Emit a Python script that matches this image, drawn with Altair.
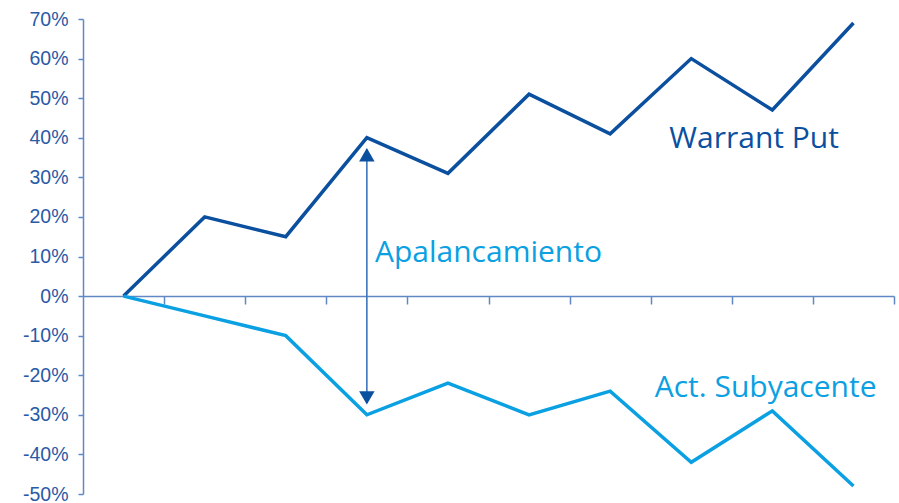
import altair as alt
import pandas as pd

# ---- data ----
periods = list(range(10))
warrant_put = [0, 20, 15, 40, 31, 51, 41, 60, 47, 69]
act_subyacente = [0, -5, -10, -30, -22, -30, -24, -42, -29, -48]
y_ticks = [-50, -40, -30, -20, -10, 0, 10, 20, 30, 40, 50, 60, 70]
x_ticks = list(range(1, 11))
arrow_period = 3

label_texts = ["Warrant Put", "Apalancamiento", "Act. Subyacente"]
label_x = [7.23, 3.6, 7.05]
label_y = [37.4, 8.6, -25.4]

DARK = "#0b4f9f"
LIGHT = "#0aa0e2"
AXIS = "#5f88c4"
LABEL = "#2a5aa6"

rows = []
for p, v in zip(periods, warrant_put):
    rows.append({"x": p + 0.5, "v": v, "serie": "Warrant Put"})
for p, v in zip(periods, act_subyacente):
    rows.append({"x": p + 0.5, "v": v, "serie": "Act. Subyacente"})
df = pd.DataFrame(rows)

xscale = alt.Scale(domain=[0, 10], nice=False, zero=False)
yscale = alt.Scale(domain=[-50, 70], nice=False, zero=False)

x_axis = alt.Axis(
    values=x_ticks, labels=False, title=None, grid=False,
    domainColor=AXIS, domainWidth=1.5, tickColor=AXIS, tickWidth=1.5,
    tickSize=8, offset=-198,
)
y_axis = alt.Axis(
    values=y_ticks, title=None, grid=False,
    labelExpr="datum.value + '%'",
    labelOverlap=False, labelFlush=False, labelBound=False,
    domainColor=AXIS, domainWidth=1.5, tickColor=AXIS, tickWidth=1.5,
    tickSize=5, labelPadding=10, labelFont="Liberation Sans",
    labelFontSize=19.5, labelColor=LABEL,
)

lines = alt.Chart(df).mark_line(strokeWidth=3.5, strokeJoin="miter").encode(
    x=alt.X("x:Q", scale=xscale, axis=x_axis),
    y=alt.Y("v:Q", scale=yscale, axis=y_axis),
    color=alt.Color("serie:N",
                    scale=alt.Scale(domain=["Warrant Put", "Act. Subyacente"],
                                    range=[DARK, LIGHT]),
                    legend=None),
    detail="serie:N",
)

arrow_df = pd.DataFrame({
    "x": [arrow_period + 0.5],
    "top": [warrant_put[arrow_period]],
    "bot": [act_subyacente[arrow_period]],
})

arrow_line = alt.Chart(arrow_df).mark_rule(
    color="#3f74bd", strokeWidth=1.6, yOffset=12, y2Offset=-12
).encode(
    x=alt.X("x:Q", scale=xscale, axis=x_axis),
    y=alt.Y("top:Q", scale=yscale, axis=y_axis),
    y2="bot:Q",
)

head_up = alt.Chart(arrow_df).mark_point(
    shape="triangle-up", filled=True, size=240, opacity=1, color=DARK, yOffset=17
).encode(
    x=alt.X("x:Q", scale=xscale, axis=x_axis),
    y=alt.Y("top:Q", scale=yscale, axis=y_axis),
)

head_down = alt.Chart(arrow_df).mark_point(
    shape="triangle-down", filled=True, size=240, opacity=1, color=DARK, yOffset=-17
).encode(
    x=alt.X("x:Q", scale=xscale, axis=x_axis),
    y=alt.Y("bot:Q", scale=yscale, axis=y_axis),
)

lab_df = pd.DataFrame({
    "text": label_texts, "x": label_x, "y": label_y,
    "c": [DARK, LIGHT, LIGHT],
})
labels = alt.Chart(lab_df).mark_text(
    align="left", baseline="alphabetic", font="Open Sans", fontSize=30
).encode(
    x=alt.X("x:Q", scale=xscale, axis=x_axis),
    y=alt.Y("y:Q", scale=yscale, axis=y_axis),
    text="text:N",
    color=alt.Color("c:N", scale=None, legend=None),
)

chart = alt.layer(lines, arrow_line, head_up, head_down, labels).properties(
    width=811, height=475,
    padding={"left": 83, "top": 19, "right": 5, "bottom": 9},
    autosize=alt.AutoSizeParams(type="none"),
    background="white",
).configure_view(stroke=None).configure_axis(labelOverlap=False)

chart.save("out.html", embed_options={"renderer": "svg", "actions": False})
